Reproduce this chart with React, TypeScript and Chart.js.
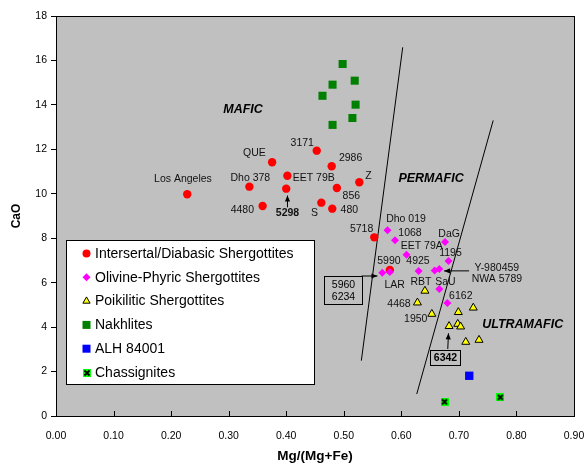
import React, { useEffect, useRef } from 'react';
import { Chart, registerables } from 'chart.js';

Chart.register(...registerables);

const FONT = '"Liberation Sans", Arial, Helvetica, sans-serif';

// ---------- data ----------
const intersertalX = [0.228, 0.336, 0.3755, 0.402, 0.400, 0.359, 0.453, 0.479, 0.527, 0.488, 0.461, 0.480, 0.553, 0.580];
const intersertalY = [9.98, 10.32, 11.42, 10.81, 10.23, 9.45, 11.94, 11.24, 10.52, 10.26, 9.60, 9.33, 8.04, 6.57];

const olivineX = [0.576, 0.589, 0.609, 0.676, 0.682, 0.630, 0.658, 0.666, 0.567, 0.580, 0.666, 0.680];
const olivineY = [8.36, 7.91, 7.26, 7.83, 6.98, 6.53, 6.55, 6.62, 6.45, 6.48, 5.72, 5.09];

const poikiliticX = [0.641, 0.628, 0.653, 0.699, 0.725, 0.683, 0.698, 0.703, 0.712, 0.735];
const poikiliticY = [5.63, 5.10, 4.59, 4.67, 4.87, 4.04, 4.14, 4.02, 3.33, 3.42];

const nakhliteX = [0.498, 0.519, 0.4805, 0.463, 0.5205, 0.515, 0.4805];
const nakhliteY = [15.84, 15.09, 14.91, 14.41, 14.01, 13.41, 13.10];

const alhX = [0.718];
const alhY = [1.81];

const chassigniteX = [0.675, 0.772];
const chassigniteY = [0.64, 0.84];

const leftLineX = [0.5305, 0.6024];
const leftLineY = [2.49, 16.59];
const rightLineX = [0.6268, 0.7596];
const rightLineY = [0.99, 13.30];

const seriesNames = [
  'Intersertal/Diabasic Shergottites',
  'Olivine-Phyric Shergottites',
  'Poikilitic Shergottites',
  'Nakhlites',
  'ALH 84001',
  'Chassignites',
];

const xTicks = [0, 0.1, 0.2, 0.3, 0.4, 0.5, 0.6, 0.7, 0.8, 0.9];
const yTicks = [0, 2, 4, 6, 8, 10, 12, 14, 16, 18];

// point labels: [text, x, y, bold]
const pointLabels: [string, number, number, boolean][] = [
  ['Los Angeles', 0.2206, 10.68, false],
  ['Dho 378', 0.3377, 10.72, false],
  ['QUE', 0.3447, 11.82, false],
  ['3171', 0.4278, 12.30, false],
  ['2986', 0.5118, 11.62, false],
  ['EET 79B', 0.4479, 10.70, false],
  ['Z', 0.5427, 10.79, false],
  ['856', 0.5131, 9.91, false],
  ['4480', 0.3238, 9.27, false],
  ['5298', 0.4022, 9.12, true],
  ['S', 0.4492, 9.12, false],
  ['480', 0.5096, 9.27, false],
  ['Dho 019', 0.6081, 8.88, false],
  ['1068', 0.6151, 8.25, false],
  ['5718', 0.531, 8.43, false],
  ['DaG', 0.683, 8.18, false],
  ['EET 79A', 0.6354, 7.64, false],
  ['1195', 0.6854, 7.32, false],
  ['5990', 0.5785, 6.98, false],
  ['4925', 0.629, 6.99, false],
  ['Y-980459', 0.766, 6.67, false],
  ['NWA 5789', 0.766, 6.17, false],
  ['LAR', 0.5884, 5.91, false],
  ['RBT', 0.6342, 6.03, false],
  ['SaU', 0.6767, 6.02, false],
  ['6162', 0.7033, 5.40, false],
  ['4468', 0.5959, 5.03, false],
  ['1950', 0.625, 4.38, false],
];

const regionLabels: [string, number, number][] = [
  ['MAFIC', 0.325, 13.80],
  ['PERMAFIC', 0.6516, 10.70],
  ['ULTRAMAFIC', 0.8108, 4.13],
];

// arrows: [x1, y1, x2(tip), y2(tip)]
const arrows: [number, number, number, number][] = [
  [0.4022, 9.39, 0.4022, 9.92],
  [0.7178, 6.53, 0.6743, 6.53],
  [0.531, 6.30, 0.5585, 6.30],
  [0.6807, 3.015, 0.6819, 3.72],
];

// boxed labels: [lines, x1, y1, x2, y2, bold]
const boxes: [string[], number, number, number, number, boolean][] = [
  [['5960', '6234'], 0.4648, 6.30, 0.5310, 5.04, false],
  [['6342'], 0.650, 2.97, 0.7016, 2.28, true],
];

const styles = [
  { shape: 'circle', fill: '#FF0000', stroke: '#FF0000', r: 4.2 },
  { shape: 'diamond', fill: '#FF00FF', stroke: '#FF00FF', r: 4 },
  { shape: 'triangle', fill: '#FFFF00', stroke: '#000000', r: 4.6 },
  { shape: 'square', fill: '#008000', stroke: '#008000', r: 5.7 },
  { shape: 'square', fill: '#0000FF', stroke: '#0000FF', r: 5.9 },
  { shape: 'chass', fill: '#00FF00', stroke: '#000000', r: 4 },
];

function makeChassImage(size: number) {
  const c = document.createElement('canvas');
  c.width = size;
  c.height = size;
  const g = c.getContext('2d')!;
  g.fillStyle = '#00FF00';
  g.fillRect(0, 0, size, size);
  g.strokeStyle = '#000';
  g.lineWidth = 1.8;
  g.beginPath();
  g.moveTo(1.5, 1.5);
  g.lineTo(size - 1.5, size - 1.5);
  g.moveTo(size - 1.5, 1.5);
  g.lineTo(1.5, size - 1.5);
  g.stroke();
  return c;
}

function drawMarker(ctx: CanvasRenderingContext2D, idx: number, x: number, y: number, chass: HTMLCanvasElement) {
  const s = styles[idx];
  ctx.save();
  ctx.fillStyle = s.fill;
  ctx.strokeStyle = s.stroke;
  ctx.lineWidth = 1;
  ctx.beginPath();
  if (s.shape === 'circle') {
    ctx.arc(x, y, 4, 0, Math.PI * 2);
    ctx.fill();
  } else if (s.shape === 'diamond') {
    const r = 4;
    ctx.moveTo(x, y - r);
    ctx.lineTo(x + r, y);
    ctx.lineTo(x, y + r);
    ctx.lineTo(x - r, y);
    ctx.closePath();
    ctx.fill();
  } else if (s.shape === 'triangle') {
    const r = 4.2;
    ctx.moveTo(x, y - r);
    ctx.lineTo(x + r * 0.866, y + r * 0.5);
    ctx.lineTo(x - r * 0.866, y + r * 0.5);
    ctx.closePath();
    ctx.fill();
    ctx.stroke();
  } else if (s.shape === 'square') {
    ctx.fillRect(x - 4, y - 4, 8, 8);
  } else {
    ctx.drawImage(chass, Math.round(x - 4), Math.round(y - 4));
  }
  ctx.restore();
}

function drawArrowHead(ctx: CanvasRenderingContext2D, x1: number, y1: number, x2: number, y2: number) {
  const ang = Math.atan2(y2 - y1, x2 - x1);
  const len = 6;
  const w = 2.6;
  ctx.beginPath();
  ctx.moveTo(x2, y2);
  ctx.lineTo(x2 - len * Math.cos(ang) + w * Math.sin(ang), y2 - len * Math.sin(ang) - w * Math.cos(ang));
  ctx.lineTo(x2 - len * Math.cos(ang) - w * Math.sin(ang), y2 - len * Math.sin(ang) + w * Math.cos(ang));
  ctx.closePath();
  ctx.fill();
}

export default function App() {
  const ref = useRef<HTMLCanvasElement | null>(null);

  useEffect(() => {
    if (!ref.current) return;
    const chass = makeChassImage(8);

    const toPts = (xs: number[], ys: number[]) => xs.map((x, i) => ({ x, y: ys[i] }));

    const plugin = {
      id: 'decor',
      beforeDraw(chart: any) {
        const { ctx, chartArea: a } = chart;
        ctx.save();
        ctx.fillStyle = '#C0C0C0';
        ctx.fillRect(a.left, a.top, a.right - a.left, a.bottom - a.top);
        ctx.restore();
      },
      afterDraw(chart: any) {
        const { ctx, chartArea: a } = chart;
        const xs = chart.scales.x;
        const ys = chart.scales.y;
        const px = (v: number) => xs.getPixelForValue(v);
        const py = (v: number) => ys.getPixelForValue(v);
        ctx.save();
        // frame
        ctx.strokeStyle = '#000';
        ctx.lineWidth = 1;
        ctx.strokeRect(Math.round(a.left) + 0.5, Math.round(a.top) + 0.5, Math.round(a.right - a.left), Math.round(a.bottom - a.top));
        // inward x ticks
        ctx.beginPath();
        xTicks.forEach((t) => {
          const x = Math.round(px(t)) + 0.5;
          ctx.moveTo(x, a.bottom);
          ctx.lineTo(x, a.bottom - 5);
        });
        ctx.stroke();

        // boxes
        boxes.forEach(([lines, x1, y1, x2, y2, bold]) => {
          const l = Math.round(px(x1)) + 0.5, t = Math.round(py(y1)) + 0.5;
          const r = Math.round(px(x2)) + 0.5, b = Math.round(py(y2)) + 0.5;
          ctx.fillStyle = '#C0C0C0';
          ctx.fillRect(l, t, r - l, b - t);
          ctx.strokeStyle = '#000';
          ctx.lineWidth = 1;
          ctx.strokeRect(l, t, r - l, b - t);
          ctx.fillStyle = '#000';
          ctx.font = `${bold ? 'bold ' : ''}10.5px ${FONT}`;
          ctx.textAlign = 'center';
          ctx.textBaseline = 'middle';
          const cx = (l + r) / 2;
          const n = lines.length;
          const lh = 12.7;
          lines.forEach((s, i) => {
            ctx.fillText(s, cx, (t + b) / 2 + (i - (n - 1) / 2) * lh + 0.5);
          });
        });

        // arrows
        ctx.strokeStyle = '#000';
        ctx.fillStyle = '#000';
        ctx.lineWidth = 1;
        arrows.forEach(([x1, y1, x2, y2]) => {
          const X1 = px(x1), Y1 = py(y1), X2 = px(x2), Y2 = py(y2);
          ctx.beginPath();
          ctx.moveTo(X1, Y1);
          ctx.lineTo(X2, Y2);
          ctx.stroke();
          drawArrowHead(ctx, X1, Y1, X2, Y2);
        });

        // point labels
        ctx.textAlign = 'center';
        ctx.textBaseline = 'middle';
        ctx.fillStyle = '#111';
        pointLabels.forEach(([s, x, y, bold]) => {
          ctx.font = `${bold ? 'bold ' : ''}10.5px ${FONT}`;
          ctx.fillText(s, px(x), py(y));
        });
        // region labels
        ctx.font = `italic bold 12.5px ${FONT}`;
        ctx.fillStyle = '#000';
        regionLabels.forEach(([s, x, y]) => ctx.fillText(s, px(x), py(y)));

        // legend
        const lx = a.left + 10.5, ly = a.top + 224.5, lw = 248, lh = 144;
        ctx.fillStyle = '#FFFFFF';
        ctx.fillRect(lx, ly, lw, lh);
        ctx.strokeStyle = '#000';
        ctx.lineWidth = 1;
        ctx.strokeRect(lx, ly, lw, lh);
        ctx.font = `14px ${FONT}`;
        ctx.textAlign = 'left';
        ctx.textBaseline = 'middle';
        seriesNames.forEach((name, i) => {
          const y = ly + 13 + i * 23.8;
          drawMarker(ctx, i, lx + 20, y, chass);
          ctx.fillStyle = '#000';
          ctx.fillText(name, lx + 28.5, y + 0.5);
        });
        ctx.restore();
      },
    };

    const chart = new Chart(ref.current, {
      type: 'scatter',
      data: {
        datasets: [
          {
            label: seriesNames[0],
            data: toPts(intersertalX, intersertalY),
            pointStyle: 'circle',
            pointRadius: styles[0].r,
            backgroundColor: styles[0].fill,
            borderColor: styles[0].stroke,
            borderWidth: 0,
            order: 6,
          },
          {
            label: seriesNames[1],
            data: toPts(olivineX, olivineY),
            pointStyle: 'rectRot',
            pointRadius: styles[1].r,
            backgroundColor: styles[1].fill,
            borderColor: styles[1].stroke,
            borderWidth: 0,
            order: 5,
          },
          {
            label: seriesNames[2],
            data: toPts(poikiliticX, poikiliticY),
            pointStyle: 'triangle',
            pointRadius: styles[2].r,
            backgroundColor: styles[2].fill,
            borderColor: styles[2].stroke,
            borderWidth: 1,
            order: 4,
          },
          {
            label: seriesNames[3],
            data: toPts(nakhliteX, nakhliteY),
            pointStyle: 'rect',
            pointRadius: styles[3].r,
            backgroundColor: styles[3].fill,
            borderColor: styles[3].stroke,
            borderWidth: 0,
            order: 3,
          },
          {
            label: seriesNames[4],
            data: toPts(alhX, alhY),
            pointStyle: 'rect',
            pointRadius: styles[4].r,
            backgroundColor: styles[4].fill,
            borderColor: styles[4].stroke,
            borderWidth: 0,
            order: 2,
          },
          {
            label: seriesNames[5],
            data: toPts(chassigniteX, chassigniteY),
            pointStyle: chass as any,
            pointRadius: styles[5].r,
            backgroundColor: styles[5].fill,
            borderColor: styles[5].stroke,
            order: 1,
          },
          {
            label: 'boundary-left',
            data: toPts(leftLineX, leftLineY),
            showLine: true,
            borderColor: '#000',
            borderWidth: 1,
            pointRadius: 0,
            order: 10,
          },
          {
            label: 'boundary-right',
            data: toPts(rightLineX, rightLineY),
            showLine: true,
            borderColor: '#000',
            borderWidth: 1,
            pointRadius: 0,
            order: 10,
          },
        ] as any,
      },
      options: {
        responsive: false,
        maintainAspectRatio: false,
        animation: false,
        devicePixelRatio: 1,
        layout: { padding: { left: 0, top: 16, right: 13, bottom: 0 } },
        plugins: {
          legend: { display: false },
          tooltip: { enabled: false },
        },
        events: [],
        scales: {
          x: {
            type: 'linear',
            min: 0,
            max: 0.9,
            afterBuildTicks: (s: any) => {
              s.ticks = xTicks.map((v) => ({ value: v }));
            },
            afterFit: (s: any) => {
              s.height = 47;
              s.paddingLeft = 0;
              s.paddingRight = 0;
            },
            ticks: {
              autoSkip: false,
              maxRotation: 0,
              padding: 14,
              color: '#000',
              font: { family: FONT, size: 10.5 },
              callback: (v: any) => Number(v).toFixed(2),
            },
            grid: { display: true, drawOnChartArea: false, drawTicks: false, color: '#000' },
            border: { display: true, color: '#000', width: 1 },
            title: {
              display: true,
              text: 'Mg/(Mg+Fe)',
              color: '#000',
              font: { family: FONT, size: 13.5, weight: 'bold', lineHeight: 1 },
              padding: { top: 0, bottom: 0 },
            },
          },
          y: {
            type: 'linear',
            min: 0,
            max: 18,
            afterBuildTicks: (s: any) => {
              s.ticks = yTicks.map((v) => ({ value: v }));
            },
            afterFit: (s: any) => {
              s.width = 56;
              s.paddingTop = 0;
              s.paddingBottom = 0;
            },
            ticks: {
              autoSkip: false,
              padding: 4,
              color: '#000',
              font: { family: FONT, size: 10.5 },
              callback: (v: any) => String(v),
            },
            grid: { display: true, drawOnChartArea: false, drawTicks: true, tickLength: 5, color: '#000' },
            border: { display: true, color: '#000', width: 1 },
            title: {
              display: true,
              text: 'CaO',
              color: '#000',
              font: { family: FONT, size: 12, weight: 'bold', lineHeight: 1.2 },
              padding: { top: 9.5, bottom: 0 },
            },
          },
        },
      } as any,
      plugins: [plugin],
    });

    return () => chart.destroy();
  }, []);

  return (
    <div style={{ position: 'fixed', left: 0, top: 0, width: 587, height: 463, background: '#fff' }}>
      <canvas ref={ref} width={587} height={463} style={{ width: 587, height: 463, display: 'block' }} />
    </div>
  );
}
